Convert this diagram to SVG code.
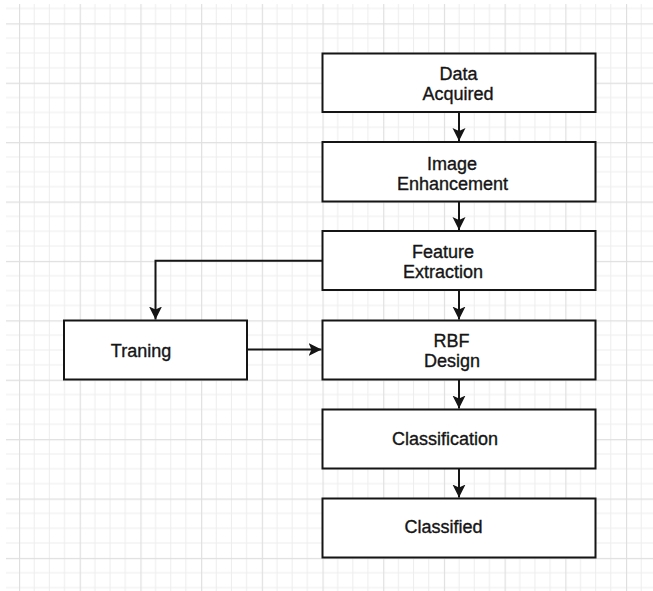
<svg xmlns="http://www.w3.org/2000/svg" width="653" height="591" viewBox="0 0 653 591">
  <style>
    .box { fill: #ffffff; stroke: #151515; stroke-width: 2; }
    .lbl { font-family: "Liberation Sans", Arial, sans-serif; font-size: 18px; fill: #151515; stroke: #151515; stroke-width: 0.35; text-anchor: middle; }
    .edge { fill: none; stroke: #151515; stroke-width: 2; }
  </style>
  <defs>
    <!-- drafting grid: minor and major lines -->
    <pattern id="grid" patternUnits="userSpaceOnUse" x="19" y="23.3" width="60.7" height="59.4">
      <g stroke="#ededed" stroke-width="1">
        <line x1="15.17" y1="0" x2="15.17" y2="59.4"/>
        <line x1="30.35" y1="0" x2="30.35" y2="59.4"/>
        <line x1="45.52" y1="0" x2="45.52" y2="59.4"/>
        <line x1="0" y1="14.85" x2="60.7" y2="14.85"/>
        <line x1="0" y1="29.7" x2="60.7" y2="29.7"/>
        <line x1="0" y1="44.55" x2="60.7" y2="44.55"/>
      </g>
      <g stroke="#dfdfdf" stroke-width="1.3">
        <line x1="0.5" y1="0" x2="0.5" y2="59.4"/>
        <line x1="0" y1="0.5" x2="60.7" y2="0.5"/>
      </g>
    </pattern>
    <marker id="arrow" markerUnits="userSpaceOnUse" markerWidth="14" markerHeight="14" viewBox="-13 -7 14 14" refX="0" refY="0" orient="auto">
      <path d="M0,0 L-13,-6.5 L-10,0 L-13,6.5 Z" fill="#151515"/>
    </marker>
  </defs>

  <rect width="653" height="591" fill="#ffffff"/>
  <rect x="6" y="4" width="647" height="587" fill="url(#grid)"/>

  <g id="connectors">
    <line class="edge" x1="459" y1="112" x2="459" y2="141" marker-end="url(#arrow)"/>
    <line class="edge" x1="459" y1="201" x2="459" y2="230" marker-end="url(#arrow)"/>
    <line class="edge" x1="459" y1="290" x2="459" y2="319.5" marker-end="url(#arrow)"/>
    <line class="edge" x1="459" y1="379.5" x2="459" y2="408.5" marker-end="url(#arrow)"/>
    <line class="edge" x1="459" y1="468.5" x2="459" y2="497.5" marker-end="url(#arrow)"/>
    <polyline class="edge" points="322,260.7 155.5,260.7 155.5,319.5" marker-end="url(#arrow)"/>
    <line class="edge" x1="247" y1="349.5" x2="321.5" y2="349.5" marker-end="url(#arrow)"/>
  </g>

  <g id="data-acquired">
    <rect class="box" x="322.5" y="53.5" width="273" height="58.5"/>
    <text class="lbl" x="458.5" y="80">Data</text>
    <text class="lbl" x="458" y="99.5">Acquired</text>
  </g>

  <g id="image-enhancement">
    <rect class="box" x="322.5" y="142" width="273" height="59.5"/>
    <text class="lbl" x="452" y="170">Image</text>
    <text class="lbl" x="452.5" y="189.5">Enhancement</text>
  </g>

  <g id="feature-extraction">
    <rect class="box" x="322.5" y="231" width="273" height="59"/>
    <text class="lbl" x="443" y="258">Feature</text>
    <text class="lbl" x="443" y="277.5">Extraction</text>
  </g>

  <g id="training">
    <rect class="box" x="64" y="320.5" width="183" height="59"/>
    <text class="lbl" x="141" y="357.3">Traning</text>
  </g>

  <g id="rbf-design">
    <rect class="box" x="322.5" y="320.5" width="273" height="59"/>
    <text class="lbl" x="451.5" y="347">RBF</text>
    <text class="lbl" x="452" y="366.5">Design</text>
  </g>

  <g id="classification">
    <rect class="box" x="322.5" y="409.5" width="273" height="59"/>
    <text class="lbl" x="445" y="445.3">Classification</text>
  </g>

  <g id="classified">
    <rect class="box" x="322.5" y="498.5" width="273" height="59"/>
    <text class="lbl" x="443.5" y="533.3">Classified</text>
  </g>
</svg>
